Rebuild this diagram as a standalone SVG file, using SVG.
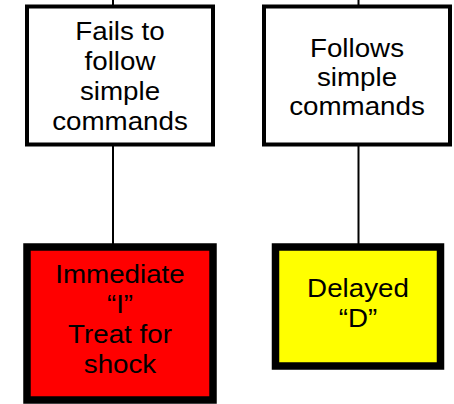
<svg xmlns="http://www.w3.org/2000/svg" width="454" height="404" viewBox="0 0 454 404">
<style>
.q{fill:#fff;stroke:#000;stroke-width:4}
.t{stroke:#000;stroke-width:7.5}
.c{stroke:#000;stroke-width:2;fill:none}
text{font-family:"Liberation Sans",Arial,sans-serif;font-size:25px;fill:#000;text-anchor:middle}
</style>
<rect width="454" height="404" fill="#fff"/>
<g id="connectors">
<line class="c" x1="113" y1="0" x2="113" y2="7"/>
<line class="c" x1="113" y1="144" x2="113" y2="247"/>
<line class="c" x1="358.5" y1="0" x2="358.5" y2="7"/>
<line class="c" x1="358.5" y1="144" x2="358.5" y2="247"/>
</g>
<g id="fails">
<rect class="q" x="27" y="6.5" width="186" height="138"/>
<text transform="translate(120 0) scale(1.11 1)"><tspan x="0" y="40">Fails to</tspan><tspan x="0" y="70">follow</tspan><tspan x="0" y="100">simple</tspan><tspan x="0" y="130">commands</tspan></text>
</g>
<g id="follows">
<rect class="q" x="264" y="6.5" width="186" height="138"/>
<text transform="translate(357 0) scale(1.11 1)"><tspan x="0" y="57">Follows</tspan><tspan x="0" y="86">simple</tspan><tspan x="0" y="115">commands</tspan></text>
</g>
<g id="immediate">
<rect class="t" x="27" y="247" width="186" height="153" fill="#ff0000"/>
<text transform="translate(120 0) scale(1.11 1)"><tspan x="0" y="283">Immediate</tspan><tspan x="0" y="313">“I”</tspan><tspan x="0" y="343">Treat for</tspan><tspan x="0" y="373">shock</tspan></text>
</g>
<g id="delayed">
<rect class="t" x="275.5" y="247" width="165" height="119" fill="#ffff00"/>
<text transform="translate(358 0) scale(1.11 1)"><tspan x="0" y="297">Delayed</tspan><tspan x="0" y="327">“D”</tspan></text>
</g>
</svg>
